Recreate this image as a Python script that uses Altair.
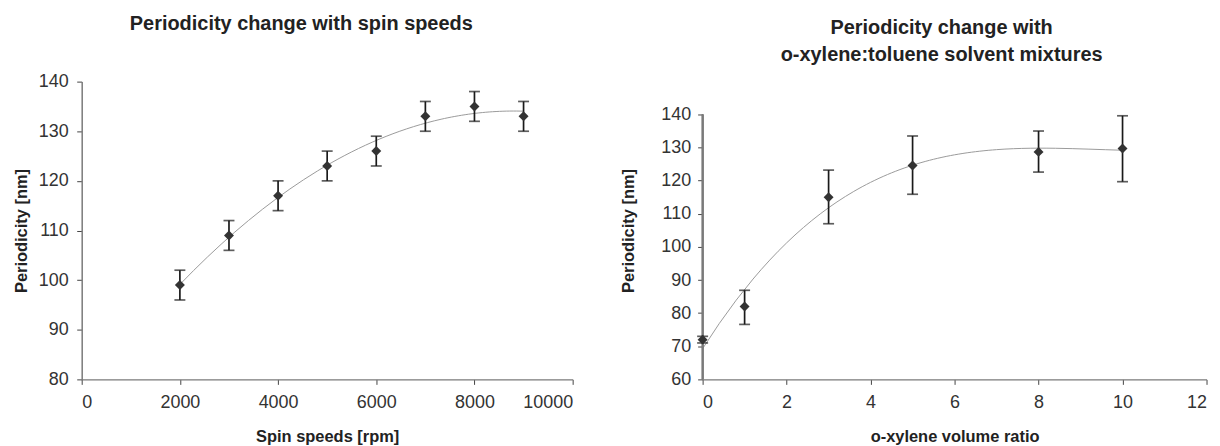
import altair as alt
import pandas as pd

# Left panel: spin speed series
spin_speed = [2000, 3000, 4000, 5000, 6000, 7000, 8000, 9000]
spin_period = [99, 109, 117, 123, 126, 133, 135, 133]
spin_upper = [102, 112, 120, 126, 129, 136, 138, 136]
spin_lower = [96, 106, 114, 120, 123, 130, 132, 130]

# Right panel: o-xylene ratio series
ratio = [0, 1, 3, 5, 8, 10]
ratio_period = [72, 82, 115, 124.6, 128.7, 129.7]
ratio_upper = [73, 86.9, 123.2, 133.5, 135, 139.6]
ratio_lower = [71, 76.6, 107, 115.9, 122.6, 119.7]

left_x_ticks = [0, 2000, 4000, 6000, 8000, 10000]
left_y_ticks = [80, 90, 100, 110, 120, 130, 140]
right_x_ticks = [0, 2, 4, 6, 8, 10, 12]
right_y_ticks = [60, 70, 80, 90, 100, 110, 120, 130, 140]

FONT = "Liberation Sans"
DARK = "#333333"
AXIS_GRAY = "#7a7a7a"


def panel(xs, ys, ups, los, xtitle, xdom, xticks, ydom, yticks, title, w, h,
          order, extent, toff, tdx, ytpad, ylpad, ydomain_top):
    df = pd.DataFrame({"x": xs, "y": ys, "up": ups, "lo": los})
    base = alt.Chart(df)
    xscale = alt.Scale(domain=xdom, nice=False, zero=False)
    yscale = alt.Scale(domain=ydom, nice=False, zero=False)
    xaxis = alt.Axis(values=xticks, tickCount=len(xticks), title=xtitle,
                     format="d", labelPadding=9, titlePadding=17,
                     labelOverlap=False)
    yaxis = alt.Axis(values=yticks, tickCount=len(yticks),
                     title="Periodicity [nm]",
                     labelPadding=ylpad, titlePadding=ytpad,
                     labelOverlap=False, domain=ydomain_top is None)

    def X():
        return alt.X("x:Q", scale=xscale, axis=xaxis)

    def Y(f):
        return alt.Y(f + ":Q", scale=yscale, axis=yaxis)

    layers = []
    trend = base.transform_regression(
        "x", "y", method="poly", order=order, extent=extent
    ).mark_line(color="#9a9a9a", strokeWidth=1).encode(x=X(), y=Y("y"))
    layers.append(trend)
    if ydomain_top is not None:
        layers.append(base.mark_rule(color=AXIS_GRAY, strokeWidth=1.5).encode(
            x=alt.value(0), y=alt.datum(ydom[0]), y2=alt.datum(ydomain_top)))
    rule = base.mark_rule(color="#1a1a1a", strokeWidth=1.7).encode(
        x=X(), y=Y("lo"), y2="up:Q")
    cap_hi = base.mark_tick(orient="horizontal", size=11, thickness=1.7,
                            color="#1a1a1a").encode(x=X(), y=Y("up"))
    cap_lo = base.mark_tick(orient="horizontal", size=11, thickness=1.7,
                            color="#1a1a1a").encode(x=X(), y=Y("lo"))
    pts = base.mark_point(shape="diamond", filled=True, size=100, color=DARK,
                          opacity=1).encode(x=X(), y=Y("y"))
    layers += [rule, cap_hi, cap_lo, pts]
    return alt.layer(*layers).properties(
        width=w, height=h,
        title=alt.TitleParams(text=title, fontSize=20, font=FONT,
                              fontWeight="bold", color="#222222",
                              offset=toff, dx=tdx, lineHeight=27,
                              anchor="middle"))


left = panel(spin_speed, spin_period, spin_upper, spin_lower,
             "Spin speeds [rpm]", [0, 10000], left_x_ticks, [80, 140],
             left_y_ticks, "Periodicity change with spin speeds", 493, 299,
             2, [2000, 9000], 39, -26, 9, 8.5, None)
right = panel(ratio, ratio_period, ratio_upper, ratio_lower,
              "o-xylene volume ratio", [0, 12], right_x_ticks, [60, 149.92],
              right_y_ticks,
              ["Periodicity change with", "o-xylene:toluene solvent mixtures"],
              506, 299, 3, [0, 10], 16.7, -13, 24, 7, 140)

chart = alt.hconcat(left, right, spacing=46.5).properties(
    padding={"left": 5, "top": 5, "right": 5, "bottom": 5}
).configure_view(
    stroke=None
).configure_axis(
    grid=False, domainColor=AXIS_GRAY, domainWidth=1.5, tickColor="#444444",
    tickSize=5, tickWidth=1, labelOverlap=False,
    labelFont=FONT, labelFontSize=18, labelColor="#333333",
    titleFont=FONT, titleFontSize=16.5, titleFontWeight="bold",
    titleColor="#222222"
)

chart.save("out.html", embed_options={"renderer": "svg", "actions": False})
